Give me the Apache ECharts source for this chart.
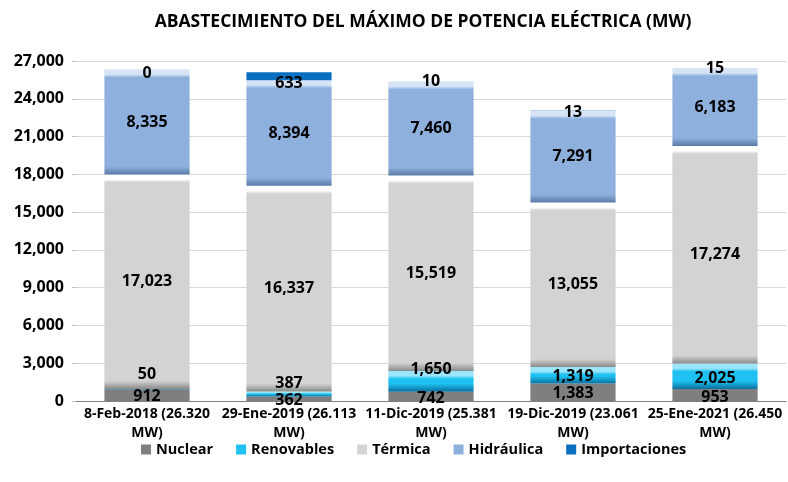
<html>
<head>
<meta charset="UTF-8">
<title>Abastecimiento del máximo de potencia eléctrica</title>
<script src="https://cdn.jsdelivr.net/npm/echarts@6/dist/echarts.min.js"></script>
<style>
  body { margin: 0; background: #fff; }
  #main { width: 788px; height: 482px; }
</style>
</head>
<body>
<div id="main"></div>
<script type="text/javascript">
// datos
var categorias = ['8-Feb-2018 (26.320 MW)', '29-Ene-2019 (26.113 MW)', '11-Dic-2019 (25.381 MW)',
                  '19-Dic-2019 (23.061 MW)', '25-Ene-2021 (26.450 MW)'];
var nuclear = [912, 362, 742, 1383, 953];
var renovables = [50, 387, 1650, 1319, 2025];
var termica = [17023, 16337, 15519, 13055, 17274];
var hidraulica = [8335, 8394, 7460, 7291, 6183];
var importaciones = [0, 633, 10, 13, 15];
var ticksY = [0, 3000, 6000, 9000, 12000, 15000, 18000, 21000, 24000, 27000];

var myChart = echarts.init(document.getElementById('main'));
var fuente = 'Open Sans';
var PX = 340 / 27000; // alto de la grilla / max

// efecto bisel aproximado
function bisel(base, claro, oscuro, v) {
    var h = v * PX;
    var t = h > 0 ? Math.min(0.45, 8 / h) : 0.45;
    return new echarts.graphic.LinearGradient(0, 0, 0, 1, [
        {offset: 0, color: claro},
        {offset: t * 0.6, color: claro},
        {offset: t, color: base},
        {offset: 1 - t, color: base},
        {offset: 1, color: oscuro}
    ]);
}

// desplazamientos de etiquetas (en px) como en el original
var ajusteNuc = [1, 2, 2, 1, 2];
var ajusteRen = [-15, -11, -12, 1, 2];
var ajusteImp = [4, 7, 0, 2, 0];

function serie(nombre, valores, colores, ajuste) {
    return {
        name: nombre,
        type: 'bar',
        stack: 'total',
        barWidth: '60%',
        data: valores.map(function (v, i) {
            var item = { value: v, itemStyle: {} };
            item.itemStyle.color = colores.plano ? colores.base : bisel(colores.base, colores.claro, colores.oscuro, v);
            if (ajuste) item.label = { offset: [0, ajuste[i]] };
            return item;
        }),
        itemStyle: { color: colores.base },
        label: {
            show: true,
            position: 'inside',
            color: '#000',
            fontFamily: fuente,
            fontWeight: 'bold',
            fontSize: 16,
            formatter: function (p) { return p.value.toLocaleString('en-US'); }
        }
    };
}

var option = {
    animation: false,
    title: {
        text: 'ABASTECIMIENTO DEL MÁXIMO DE POTENCIA ELÉCTRICA (MW)',
        left: 418,
        top: 8,
        textAlign: 'center',
        textStyle: { fontFamily: fuente, fontWeight: 'bold', fontSize: 17.5, color: '#000' }
    },
    legend: {
        top: 437,
        left: 136,
        width: 640,
        itemWidth: 10,
        itemHeight: 10,
        itemGap: 23,
        icon: 'rect',
        textStyle: { fontFamily: fuente, fontWeight: 'bold', fontSize: 14.5, color: '#000' },
        data: ['Nuclear', 'Renovables', 'Térmica', 'Hidráulica', 'Importaciones']
    },
    grid: { left: 76, right: 2, top: 61, height: 340 },
    xAxis: {
        type: 'category',
        data: categorias,
        axisTick: { show: false },
        axisLine: { lineStyle: { color: '#7f7f7f', width: 1 } },
        axisLabel: {
            interval: 0,
            margin: 4,
            lineHeight: 19,
            color: '#000',
            fontFamily: fuente,
            fontWeight: 'bold',
            fontSize: 14,
            formatter: function (v) { return v.replace(' MW)', '\nMW)'); }
        }
    },
    yAxis: {
        type: 'value',
        min: ticksY[0],
        max: ticksY[ticksY.length - 1],
        interval: 3000,
        axisLine: { show: false },
        axisTick: { show: true, length: 4, lineStyle: { color: '#bfbfbf' } },
        splitLine: { lineStyle: { color: '#d9d9d9' } },
        axisLabel: {
            margin: 12,
            color: '#000',
            fontFamily: fuente,
            fontWeight: 'bold',
            fontSize: 16,
            formatter: function (v) { return v.toLocaleString('en-US'); }
        }
    },
    series: [
        serie('Nuclear', nuclear, { base: '#7f7f7f', plano: true }, ajusteNuc),
        serie('Renovables', renovables, { base: '#1ec1f2', claro: '#9be6fb', oscuro: '#0b6f9c' }, ajusteRen),
        serie('Térmica', termica, { base: '#d3d3d3', claro: '#ffffff', oscuro: '#8a8a8a' }),
        serie('Hidráulica', hidraulica, { base: '#8db0dd', claro: '#d6e4f5', oscuro: '#5a7aa6' }),
        serie('Importaciones', importaciones, { base: '#0a6fc0', plano: true }, ajusteImp)
    ]
};
myChart.setOption(option);
</script>
</body>
</html>
